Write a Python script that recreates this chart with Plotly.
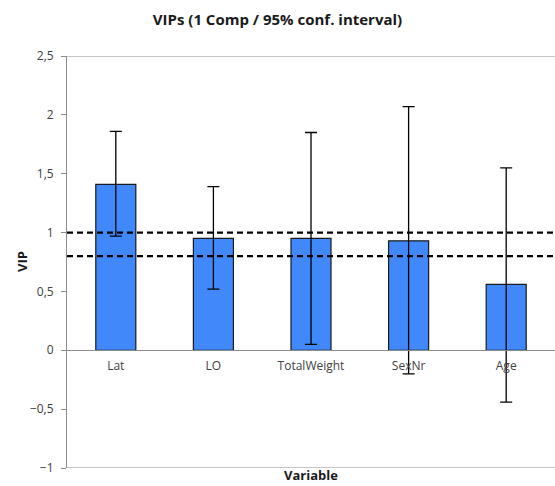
import plotly.graph_objects as go

categories = ["Lat", "LO", "TotalWeight", "SexNr", "Age"]
vip = [1.41, 0.95, 0.95, 0.93, 0.56]
upper = [1.86, 1.39, 1.85, 2.07, 1.55]
lower = [0.97, 0.52, 0.05, -0.20, -0.44]
thresholds = [1.0, 0.8]
y_range = [-1, 2.5]
y_ticks = [-1, -0.5, 0, 0.5, 1, 1.5, 2, 2.5]

err_plus = [u - v for u, v in zip(upper, vip)]
err_minus = [v - l for v, l in zip(vip, lower)]

font = "Open Sans"
W, H = 555, 486
L, R, T, B = 67, 0, 56, 18
plot_w, plot_h = W - L - R, H - T - B

fig = go.Figure()
fig.add_trace(go.Bar(
    x=categories, y=vip, width=0.41,
    marker=dict(color="#4189FB", line=dict(color="#1a1a1a", width=1.2)),
    error_y=dict(type="data", symmetric=False, array=err_plus, arrayminus=err_minus,
                 color="black", thickness=1.3, width=6),
    showlegend=False,
))

zero_frac = (0 - y_range[0]) / (y_range[1] - y_range[0])

shapes = []
for t in thresholds:
    shapes.append(dict(type="line", xref="paper", yref="y", x0=0, x1=1, y0=t, y1=t,
                       line=dict(color="black", width=2.2, dash="6px,4px"), layer="above"))
for yv in (y_range[0], y_range[1]):
    shapes.append(dict(type="line", xref="paper", yref="y", x0=0, x1=1, y0=yv, y1=yv,
                       line=dict(color="#8c8c8c", width=1), layer="below"))

fig.update_layout(
    width=W, height=H,
    margin=dict(l=L, r=R, t=T, b=B),
    paper_bgcolor="white", plot_bgcolor="white",
    separators=", ",
    font=dict(family=font, size=11, color="#404040"),
    title=dict(text="<b>VIPs (1 Comp / 95% conf. interval)</b>", x=0.5, xanchor="center",
               y=1 - 20 / H, yanchor="middle", font=dict(family=font, size=15, color="#1a1a1a")),
    shapes=shapes,
    xaxis=dict(anchor="free", position=zero_frac, showline=True, linecolor="#8c8c8c", linewidth=1,
               ticks="outside", ticklen=4, tickcolor="rgba(0,0,0,0)", showgrid=False,
               tickfont=dict(family=font, size=12, color="#404040"), zeroline=False,
               range=[-0.5, 4.5], domain=[0, 1], automargin=False),
    yaxis=dict(range=y_range, tickvals=y_ticks, showline=True, linecolor="#8c8c8c", linewidth=1,
               ticks="outside", ticklen=5, tickcolor="#8c8c8c", showgrid=False, zeroline=False,
               ticklabelstandoff=5, automargin=False,
               tickfont=dict(family=font, size=12, color="#404040"), domain=[0, 1]),
    annotations=[
        dict(text="<b>Variable</b>", xref="paper", yref="paper", x=0.5, y=-B / plot_h,
             yanchor="bottom", showarrow=False,
             font=dict(family=font, size=13, color="#1a1a1a")),
        dict(text="<b>VIP</b>", xref="paper", yref="paper", x=(22 - L) / plot_w, y=0.5,
             xanchor="center", yanchor="middle", textangle=-90, showarrow=False,
             font=dict(family=font, size=13, color="#1a1a1a")),
    ],
)

fig.write_html("out.html", config={"displayModeBar": False},
               post_script="document.body.style.margin='0';document.body.style.overflow='hidden';")
